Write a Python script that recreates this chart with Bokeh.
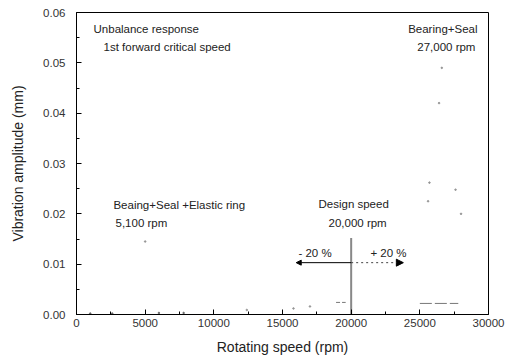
from bokeh.plotting import figure
from bokeh.models import (FixedTicker, NumeralTickFormatter, Label, Arrow, NormalHead)
from bokeh.embed import file_html
from bokeh.resources import INLINE

# Axis ticks
x_ticks = [0, 5000, 10000, 15000, 20000, 25000, 30000]
x_minor = [2500, 7500, 12500, 17500, 22500, 27500]
y_ticks = [0.00, 0.01, 0.02, 0.03, 0.04, 0.05, 0.06]
y_minor = [0.005, 0.015, 0.025, 0.035, 0.045, 0.055]

# Visible (faded) fragments of the response curves
bs_x = [25600, 25700, 26400, 26600, 27600, 28000]
bs_y = [0.0225, 0.0262, 0.042, 0.049, 0.0248, 0.020]
bs_flat_x = [25000, 27800]
bs_flat_y = [0.0022, 0.0022]
bse_x = [5000, 12400, 15800, 17000]
bse_y = [0.0145, 0.0009, 0.0012, 0.0016]
bse_flat_x = [18900, 19600]
bse_flat_y = [0.0024, 0.0024]
base_x = [1000, 2600, 6000, 7800]
base_y = [0.0002, 0.0002, 0.0003, 0.0003]

design_speed = 20000
design_amp_top = 0.0152
band_low, band_high = 16000, 23800
band_y = 0.0103

p = figure(width=508, height=358, frame_width=412, frame_height=302,
           x_range=(0, 30000), y_range=(0, 0.06),
           output_backend="svg", toolbar_location=None,
           min_border_left=76, min_border_right=20, min_border_top=12, min_border_bottom=44)
p.background_fill_color = "white"
p.border_fill_color = "white"
p.outline_line_color = "black"
p.outline_line_width = 1
p.xgrid.visible = False
p.ygrid.visible = False

p.xaxis.ticker = FixedTicker(ticks=x_ticks, minor_ticks=x_minor)
p.yaxis.ticker = FixedTicker(ticks=y_ticks, minor_ticks=y_minor)
p.yaxis.formatter = NumeralTickFormatter(format="0.00")

for ax in (p.xaxis, p.yaxis):
    ax.major_tick_in = 5
    ax.major_tick_out = 0
    ax.minor_tick_in = 3
    ax.minor_tick_out = 0
    ax.axis_line_color = "black"
    ax.major_tick_line_color = "black"
    ax.minor_tick_line_color = "black"
    ax.major_label_text_font = "Liberation Sans"
    ax.major_label_text_font_size = "11.5px"
    ax.major_label_text_color = "#333333"
    ax.axis_label_text_font = "Liberation Sans"
    ax.axis_label_text_font_size = "14px"
    ax.axis_label_text_font_style = "normal"
    ax.axis_label_text_color = "#222222"

p.xaxis.axis_label = "Rotating speed (rpm)"
p.yaxis.axis_label = "Vibration amplitude (mm)"
p.xaxis.major_label_standoff = 4
p.xaxis.axis_label_standoff = 9
p.yaxis.major_label_standoff = 11
p.yaxis.axis_label_standoff = 14

# Faded curve fragments
p.scatter(bs_x, bs_y, size=1.6, color="#888888", alpha=0.8)
p.scatter(bse_x, bse_y, size=1.6, color="#888888", alpha=0.8)
p.scatter(base_x, base_y, size=1.6, color="#555555", alpha=0.8)
p.line(bs_flat_x, bs_flat_y, line_color="#777777", line_width=1, line_dash="12 3")
p.line(bse_flat_x, bse_flat_y, line_color="#777777", line_width=1, line_dash="4 2")

# Design speed line
p.segment(x0=[design_speed], y0=[0], x1=[design_speed], y1=[design_amp_top],
          line_color="#888888", line_width=2)

# +/- 20 % arrows
p.add_layout(Arrow(x_start=design_speed, y_start=band_y, x_end=band_low, y_end=band_y,
                   line_color="black", line_width=1,
                   end=NormalHead(size=5, fill_color="black", line_color="black")))
p.add_layout(Arrow(x_start=design_speed, y_start=band_y, x_end=band_high, y_end=band_y,
                   line_color="#444444", line_width=1, line_dash="2 3",
                   end=NormalHead(size=7, fill_color="black", line_color="black")))

def lab(x, y, t, align="left"):
    p.add_layout(Label(x=x, y=y, text=t, text_font="Liberation Sans", text_font_size="11.5px",
                       text_color="#222222", text_align=align, text_baseline="middle"))

lab(1240, 0.0568, "Unbalance response")
lab(1970, 0.0531, "1st forward critical speed")
lab(29200, 0.0568, "Bearing+Seal", "right")
lab(29050, 0.0531, "27,000 rpm", "right")
lab(2690, 0.0217, "Beaing+Seal +Elastic ring")
lab(2840, 0.0181, "5,100 rpm")
lab(17620, 0.0219, "Design speed")
lab(18350, 0.0181, "20,000 rpm")
lab(16160, 0.0123, "- 20 %")
lab(21400, 0.0123, "+ 20 %")

open("out.html", "w").write(file_html(p, INLINE))
